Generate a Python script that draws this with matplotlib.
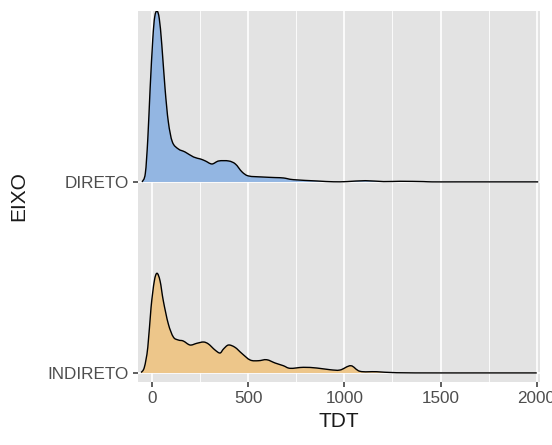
import numpy as np
import matplotlib
matplotlib.use("Agg")
import matplotlib.pyplot as plt
from matplotlib.path import Path
from matplotlib.patches import PathPatch

plt.rcParams["font.family"] = ["Liberation Sans", "DejaVu Sans"]

categories = ["INDIRETO", "DIRETO"]

# densidade (altura em unidades da distancia entre linhas)
direto_x = [-54, -37, -24, -12, 2, 12, 24, 36, 49, 66, 83, 104, 135, 170, 214, 250,
            276, 310, 345, 397, 432, 467, 501, 571, 640, 683, 735, 857, 943, 1013,
            1109, 1204, 1291, 1411, 1456, 1600, 1800, 2009]
direto_h = [0, 8.4, 43, 93, 143, 165, 171, 163, 137, 93, 60, 40, 33, 30, 25, 23,
            21, 18, 21, 21, 18, 10, 6, 5, 4.4, 4, 2.3, 1, 0.2, 0.4,
            1.3, 0.4, 0.7, 0.4, 0.1, 0.1, 0.1, 0.1]

indireto_x = [-59, -42, -24, -7, 10, 24, 40, 57, 83, 109, 135, 161, 196, 231, 266,
              292, 326, 352, 370, 396, 430, 465, 509, 552, 595, 639, 682, 717, 786,
              856, 925, 977, 1033, 1081, 1168, 1272, 1480, 1700, 2001]
indireto_h = [0.5, 5.7, 25.7, 65.7, 92, 99.7, 92, 72, 49, 36, 33, 32, 28, 29.7, 31,
              29, 23, 20, 24, 28, 25.7, 19.7, 13, 12.3, 13.3, 10, 7.3, 4.7, 5.7,
              5, 3.3, 3, 7.3, 1.7, 1.3, 0.3, 0.1, 0.1, 0.1]

series = {
    "INDIRETO": (indireto_x, np.array(indireto_h) / 191.0, "#EDC68A"),
    "DIRETO": (direto_x, np.array(direto_h) / 191.0, "#93B6E2"),
}


def smooth_path(xs, ys, base, closed):
    # curva bezier que passa pelos pontos lidos (catmull-rom)
    pts = np.column_stack([xs, ys]).astype(float)
    verts = [pts[0]]
    codes = [Path.MOVETO]
    n = len(pts)
    for k in range(n - 1):
        p0 = pts[max(k - 1, 0)]
        p1 = pts[k]
        p2 = pts[k + 1]
        p3 = pts[min(k + 2, n - 1)]
        c1 = p1 + (p2 - p0) / 6.0
        c2 = p2 - (p3 - p1) / 6.0
        # nao deixar a curva voltar para tras em x
        c1[0] = min(max(c1[0], p1[0]), p2[0])
        c2[0] = min(max(c2[0], p1[0]), p2[0])
        verts += [c1, c2, p2]
        codes += [Path.CURVE4] * 3
    if closed:
        verts += [(xs[-1], base), (xs[0], base), pts[0]]
        codes += [Path.LINETO, Path.LINETO, Path.CLOSEPOLY]
    return Path(verts, codes)


fig = plt.figure(figsize=(5.52, 4.45), dpi=100)
ax = fig.add_axes([138 / 552, 63 / 445, 402 / 552, 371 / 445])
ax.set_facecolor("#E3E3E3")

ax.set_xlim(-75, 2018)
ax.set_ylim(0.953, 2.895)

for v in [250, 750, 1250, 1750]:
    ax.axvline(v, color="white", lw=0.6, zorder=0)
for v in [0, 500, 1000, 1500, 2000]:
    ax.axvline(v, color="white", lw=1.2, zorder=0)
for i in range(len(categories)):
    ax.axhline(i + 1, color="white", lw=1.2, zorder=0)

for i in reversed(range(len(categories))):
    name = categories[i]
    xs, hs, col = series[name]
    base = i + 1
    ys = base + hs
    ax.add_patch(PathPatch(smooth_path(xs, ys, base, True), facecolor=col,
                           edgecolor="none", zorder=2 + (2 - i)))
    ax.add_patch(PathPatch(smooth_path(xs, ys, base, False), facecolor="none",
                           edgecolor="black", lw=1.0, zorder=2.5 + (2 - i)))

ax.set_yticks([1, 2])
ax.set_yticklabels(categories)
ax.set_xticks([0, 500, 1000, 1500, 2000])
ax.tick_params(axis="both", colors="#333333", labelcolor="#4D4D4D",
               labelsize=12.3, length=3.5, width=1.1, pad=3)
for s in ax.spines.values():
    s.set_visible(False)

ax.set_xlabel("TDT", fontsize=15, color="#1A1A1A", labelpad=4)
ax.set_ylabel("EIXO", fontsize=15, color="#1A1A1A", labelpad=14)

fig.savefig("out.png", dpi=100)
